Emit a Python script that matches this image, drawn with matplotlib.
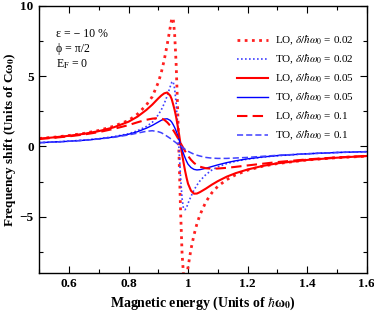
import matplotlib
matplotlib.use("Agg")
import matplotlib.pyplot as plt
from matplotlib.ticker import MultipleLocator

plt.rcParams["font.family"] = "serif"
plt.rcParams["font.serif"] = ["Liberation Serif", "DejaVu Serif"]
plt.rcParams["mathtext.fontset"] = "stix"

# magnetic energy (units of hbar*omega_0)
energy = [0.50, 0.55, 0.60, 0.65, 0.70, 0.75, 0.80, 0.83, 0.86, 0.88,
          0.90, 0.91, 0.92, 0.93, 0.94, 0.945, 0.95, 0.955, 0.96, 0.965,
          0.97, 0.975, 0.98, 0.985, 0.99, 0.995, 1.00, 1.01, 1.02, 1.03,
          1.04, 1.06, 1.08, 1.10, 1.13, 1.16, 1.20, 1.25, 1.30, 1.40,
          1.50, 1.60]

# frequency shift (units of C*omega_0)
lo_002 = [0.57, 0.66, 0.78, 0.93, 1.14, 1.44, 1.85, 2.30, 2.95, 3.55,
          4.55, 5.25, 6.15, 7.25, 8.45, 9.05, 9.15, 8.00, 5.90, 2.80,
          -0.80, -4.60, -7.60, -9.20, -9.60, -9.30, -8.60, -7.30, -6.30, -5.50,
          -4.87, -3.94, -3.30, -2.84, -2.36, -2.02, -1.69, -1.41, -1.22, -0.96,
          -0.80, -0.69]
to_002 = [0.27, 0.32, 0.38, 0.45, 0.55, 0.70, 0.90, 1.12, 1.42, 1.72,
          2.25, 2.60, 3.05, 3.60, 4.25, 4.55, 4.62, 4.10, 3.10, 1.60,
          -0.30, -2.20, -3.70, -4.45, -4.50, -4.35, -4.05, -3.55, -3.10, -2.75,
          -2.45, -2.00, -1.68, -1.45, -1.22, -1.05, -0.90, -0.76, -0.66, -0.52,
          -0.43, -0.37]
lo_005 = [0.55, 0.65, 0.76, 0.90, 1.09, 1.36, 1.76, 2.12, 2.60, 2.98,
          3.42, 3.62, 3.78, 3.84, 3.62, 3.38, 3.00, 2.60, 2.10, 1.50,
          0.85, 0.15, -0.55, -1.15, -1.72, -2.22, -2.65, -3.15, -3.36, -3.35,
          -3.25, -3.00, -2.72, -2.47, -2.15, -1.90, -1.64, -1.39, -1.20, -0.96,
          -0.80, -0.68]
to_005 = [0.27, 0.32, 0.37, 0.44, 0.54, 0.67, 0.87, 1.05, 1.30, 1.50,
          1.74, 1.86, 1.95, 1.97, 1.86, 1.74, 1.56, 1.35, 1.10, 0.80,
          0.48, 0.12, -0.22, -0.52, -0.80, -1.05, -1.26, -1.50, -1.63, -1.67,
          -1.65, -1.55, -1.43, -1.31, -1.15, -1.02, -0.88, -0.75, -0.65, -0.52,
          -0.43, -0.37]
lo_01 = [0.54, 0.62, 0.72, 0.85, 1.02, 1.25, 1.52, 1.72, 1.90, 1.98,
         2.02, 2.00, 1.90, 1.72, 1.48, 1.33, 1.17, 1.00, 0.82, 0.63,
         0.44, 0.24, 0.05, -0.14, -0.33, -0.50, -0.67, -0.95, -1.17, -1.33,
         -1.44, -1.55, -1.58, -1.57, -1.52, -1.45, -1.35, -1.23, -1.11, -0.92,
         -0.78, -0.68]
to_01 = [0.27, 0.31, 0.37, 0.44, 0.53, 0.65, 0.82, 0.95, 1.08, 1.12,
         1.05, 0.98, 0.86, 0.72, 0.58, 0.50, 0.42, 0.34, 0.26, 0.17,
         0.08, 0.05, -0.04, -0.12, -0.20, -0.27, -0.34, -0.45, -0.55, -0.62,
         -0.68, -0.78, -0.83, -0.85, -0.85, -0.82, -0.78, -0.70, -0.63, -0.52,
         -0.43, -0.37]

labels = [r"LO, $\delta/\hbar\omega_0$ = 0.02", r"TO, $\delta/\hbar\omega_0$ = 0.02",
          r"LO, $\delta/\hbar\omega_0$ = 0.05", r"TO, $\delta/\hbar\omega_0$ = 0.05",
          r"LO, $\delta/\hbar\omega_0$ = 0.1", r"TO, $\delta/\hbar\omega_0$ = 0.1"]

fig = plt.figure(figsize=(3.74, 3.13), dpi=100)
ax = fig.add_axes([0.105, 0.128, 0.875, 0.853])

ax.plot(energy, lo_002, color="#ff2020", linestyle=(0, (1, 1.6)), linewidth=2.0,
        label=labels[0])
ax.plot(energy, to_002, color="#4040ff", linestyle=(0, (1, 1.4)), linewidth=1.2,
        label=labels[1])
ax.plot(energy, lo_005, color="#ff0000", linestyle="-", linewidth=1.5,
        label=labels[2])
ax.plot(energy, to_005, color="#0000ff", linestyle="-", linewidth=1.0,
        label=labels[3])
ax.plot(energy, lo_01, color="#ff0000", linestyle=(0, (5, 2.5)), linewidth=1.5,
        label=labels[4])
ax.plot(energy, to_01, color="#4040ff", linestyle=(0, (4, 2)), linewidth=1.1,
        label=labels[5])

ax.set_xlim(0.5, 1.6)
ax.set_ylim(-9, 10)
ax.xaxis.set_major_locator(MultipleLocator(0.2))
ax.xaxis.set_minor_locator(MultipleLocator(0.1))
ax.yaxis.set_major_locator(MultipleLocator(5))
ax.yaxis.set_minor_locator(MultipleLocator(2.5))
ax.tick_params(which="both", direction="in", top=True, right=True, width=0.8)
ax.tick_params(which="major", length=5, labelsize=9.5, pad=4)
ax.tick_params(which="minor", length=3)
ax.set_xticks([0.6, 0.8, 1.0, 1.2, 1.4, 1.6])
ax.set_xticklabels(["0.6", "0.8", "1", "1.2", "1.4", "1.6"])
for lab in ax.get_xticklabels() + ax.get_yticklabels():
    lab.set_fontweight("bold")
for sp in ax.spines.values():
    sp.set_linewidth(1.0)

ax.set_xlabel(r"Magnetic energy (Units of $\hbar$ω$_{\mathbf{0}}$)", fontsize=10,
              fontweight="bold", labelpad=3)
ax.set_ylabel(r"Frequency shift (Units of Cω$_{\mathbf{0}}$)", fontsize=9.5,
              fontweight="bold", labelpad=1)

ax.text(0.05, 0.895, "ε = − 10 %", transform=ax.transAxes, fontsize=8.5, va="center")
ax.text(0.05, 0.838, "ϕ = π/2", transform=ax.transAxes, fontsize=8.5, va="center")
ax.text(0.05, 0.781, r"E$_\mathrm{F}$ = 0", transform=ax.transAxes, fontsize=8.5,
        va="center")

ax.legend(loc="upper right", bbox_to_anchor=(0.985, 0.925), frameon=False,
          fontsize=8, handlelength=2.8, handletextpad=0.6,
          labelspacing=0.5, borderaxespad=0.3)

fig.savefig("out.png", dpi=100)
